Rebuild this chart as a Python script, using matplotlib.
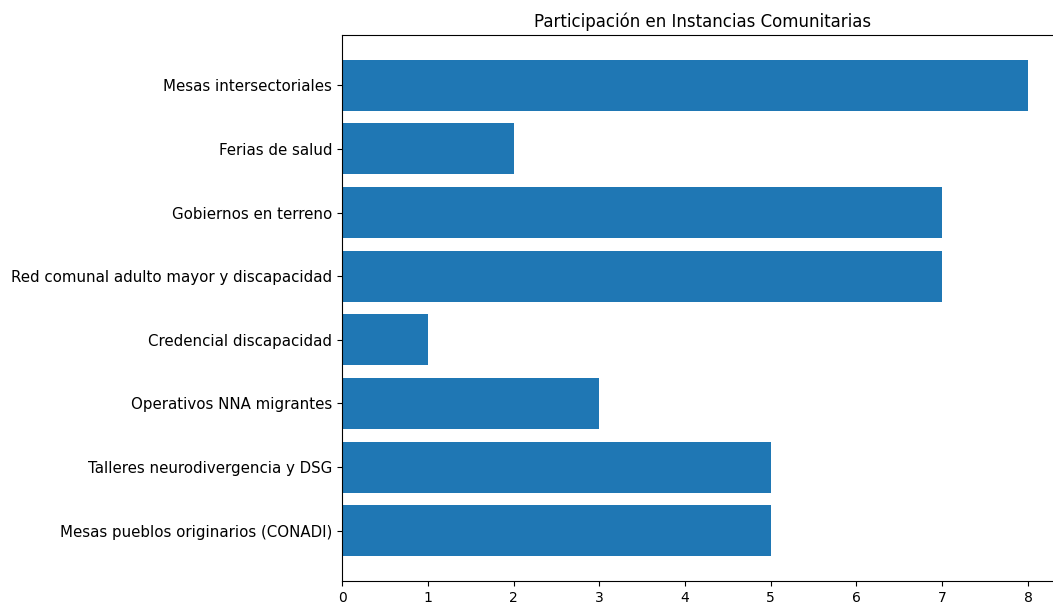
import matplotlib
matplotlib.use("Agg")
import matplotlib.pyplot as plt

# Instancias comunitarias (de arriba hacia abajo en el gráfico)
instancias = [
    "Mesas pueblos originarios (CONADI)",
    "Talleres neurodivergencia y DSG",
    "Operativos NNA migrantes",
    "Credencial discapacidad",
    "Red comunal adulto mayor y discapacidad",
    "Gobiernos en terreno",
    "Ferias de salud",
    "Mesas intersectoriales",
]
participaciones = [5, 5, 3, 1, 7, 7, 2, 8]


def main():
    fig = plt.figure(figsize=(10.53, 6.07), dpi=100)
    # l'axe dépasse à droite comme dans l'image d'origine (recadrée)
    ax = fig.add_axes([0.3248, 0.0428, 0.684, 0.8995])
    ax.barh(instancias, participaciones, color="#1f77b4")
    ax.set_title("Participación en Instancias Comunitarias", fontsize=12)
    ax.tick_params(axis="y", labelsize=10.8)
    ax.tick_params(axis="x", labelsize=10)
    fig.savefig("out.png", dpi=100)


if __name__ == "__main__":
    main()
